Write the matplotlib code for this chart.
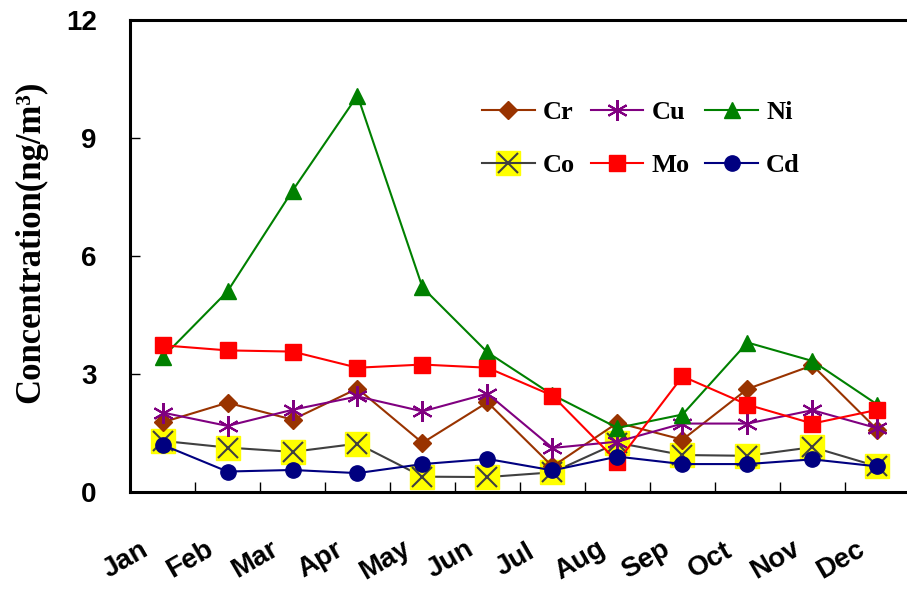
import matplotlib.pyplot as plt
import matplotlib.ticker as mticker

months = ["Jan", "Feb", "Mar", "Apr", "May", "Jun",
          "Jul", "Aug", "Sep", "Oct", "Nov", "Dec"]

cr = [1.77, 2.27, 1.84, 2.63, 1.25, 2.28, 0.65, 1.76, 1.33, 2.62, 3.22, 1.58]
cu = [2.02, 1.68, 2.09, 2.43, 2.05, 2.50, 1.12, 1.28, 1.74, 1.74, 2.08, 1.62]
ni = [3.42, 5.10, 7.66, 10.08, 5.20, 3.55, 2.47, 1.63, 1.97, 3.80, 3.33, 2.22]
co = [1.30, 1.13, 1.02, 1.23, 0.39, 0.38, 0.50, 1.25, 0.94, 0.92, 1.14, 0.65]
mo = [3.73, 3.60, 3.57, 3.16, 3.24, 3.16, 2.45, 0.77, 2.94, 2.22, 1.74, 2.09]
cd = [1.20, 0.52, 0.56, 0.48, 0.71, 0.84, 0.55, 0.90, 0.71, 0.71, 0.83, 0.65]


def main():
    fig = plt.figure(figsize=(9.07, 5.89), dpi=100)
    ax = fig.add_axes([130 / 907, 97 / 589, 780 / 907, 472 / 589])
    x = list(range(len(months)))

    h_cr, = ax.plot(x, cr, color="#993300", marker="D", markersize=9, lw=1.5, zorder=3)
    h_cu, = ax.plot(x, cu, color="#800080", marker=(6, 2, 0), markersize=15, mew=1.5,
                    lw=1.5, zorder=3)
    h_ni, = ax.plot(x, ni, color="#008000", marker="^", markersize=11, lw=1.5, zorder=3)
    # Co: yellow square with a dark cross over it
    ax.plot(x, co, color="#404040", lw=1.5, zorder=2)
    ax.plot(x, co, ls="none", marker="s", markersize=17, mfc="yellow", mec="yellow", zorder=2)
    ax.plot(x, co, ls="none", marker="x", markersize=14, mew=1.5, color="#404040", zorder=2)
    h_co, = ax.plot([], [], color="#404040", lw=1.5, marker="x", markersize=14, mew=1.5)
    h_co_bg, = ax.plot([], [], ls="none", marker="s", markersize=17, mfc="yellow", mec="yellow")
    h_mo, = ax.plot(x, mo, color="red", marker="s", markersize=11, lw=1.5, zorder=4)
    h_cd, = ax.plot(x, cd, color="#000080", marker="o", markersize=11, lw=1.5, zorder=4)

    ax.set_xlim(-0.5, 11.5)
    ax.set_ylim(0, 12)
    ax.yaxis.set_major_locator(mticker.MultipleLocator(3))
    ax.set_xticks([i + 0.5 for i in range(11)])
    ax.set_xticklabels([])
    for i, m in enumerate(months):
        ax.text(i - 0.57, -1.73, m, rotation=30, ha="center", va="center",
                fontsize=20, fontweight="bold", family="Liberation Sans")

    for s in ax.spines.values():
        s.set_linewidth(2.2)
    ax.tick_params(direction="in", length=7, width=1, pad=24)
    for lab in ax.get_yticklabels():
        lab.set_fontsize(20)
        lab.set_fontweight("bold")
        lab.set_family("Liberation Sans")

    ax.set_ylabel("Concentration(ng/m³)", fontsize=25,
                  fontweight="bold", family="Liberation Serif")
    ax.yaxis.set_label_coords(-0.106, 0.53)

    ax.legend([h_cr, (h_co_bg, h_co), h_cu, h_mo, h_ni, h_cd],
              ["Cr", "Co", "Cu", "Mo", "Ni", "Cd"], ncol=3, frameon=False,
              loc="center", bbox_to_anchor=(0.655, 0.748),
              prop={"family": "Liberation Serif", "weight": "bold", "size": 19},
              handlelength=2.0, columnspacing=0.6, labelspacing=1.1, handletextpad=0.3)

    fig.savefig("out.png", dpi=100)


if __name__ == '__main__':
    main()
